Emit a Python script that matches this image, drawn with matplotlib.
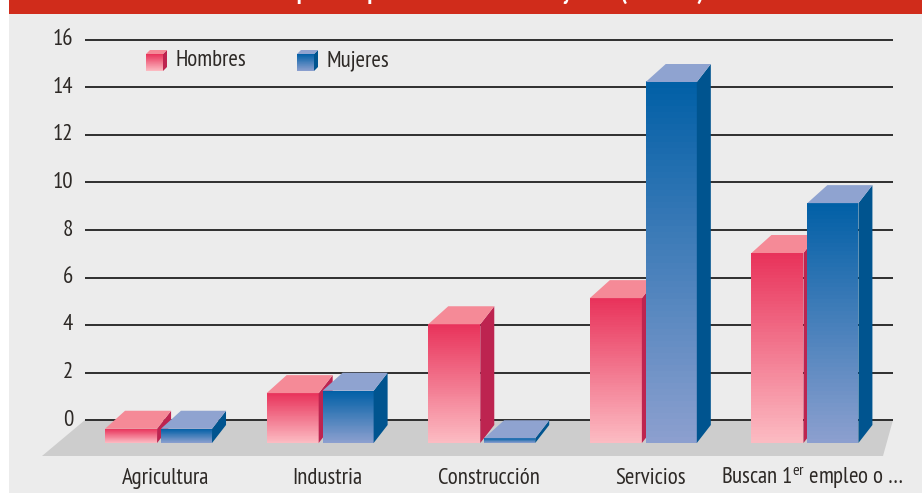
import matplotlib
matplotlib.use("Agg")
import matplotlib.pyplot as plt
from matplotlib.patches import Polygon, Rectangle
import numpy as np

FONT = ['PT Sans Narrow', 'Roboto Condensed', 'DejaVu Sans']
plt.rcParams['font.family'] = FONT
plt.rcParams['mathtext.fontset'] = 'custom'
plt.rcParams['mathtext.rm'] = 'PT Sans Narrow'
plt.rcParams['mathtext.it'] = 'PT Sans Narrow:italic'
plt.rcParams['mathtext.bf'] = 'PT Sans Narrow:bold'

# ---------------- data ----------------
categories = ["Agricultura", "Industria", "Construcción", "Servicios",
              "Buscan 1$^{\\mathrm{er}}$ empleo o …"]
series_names = ["Hombres", "Mujeres"]
hombres = [0.6, 2.1, 5.0, 6.1, 8.0]
mujeres = [0.6, 2.2, 0.2, 15.2, 10.1]
yticks = [0, 2, 4, 6, 8, 10, 12, 14, 16]
title = "Desempleados por sector de actividad y sexo (en miles)"

# ---------------- style ----------------
W, H, DPI = 922, 493, 100
FS = 16.5
bg = '#ececec'
floor_c = '#cdcdcd'
header_c = '#d02c1b'
text_c = '#2d2926'
red = dict(top_grad='#e8325a', bot_grad='#fcbcc3', side='#bd2450', cap='#f58a97')
blue = dict(top_grad='#005fa6', bot_grad='#8da0cf', side='#00548f', cap='#8fa3d0')
styles = [red, blue]

fig = plt.figure(figsize=(W / DPI, H / DPI), dpi=DPI)
fig.patch.set_facecolor('white')

# background panel & header
fig.add_artist(Rectangle((9 / W, 0), 1 - 9 / W, 1 - 1 / H, transform=fig.transFigure,
                         facecolor=bg, edgecolor='none', zorder=0))
fig.add_artist(Rectangle((9 / W, 1 - 13.5 / H), 1 - 9 / W, 13.5 / H, transform=fig.transFigure,
                         facecolor=header_c, edgecolor='none', zorder=1))
fig.text(0.512, 1 + 1.5 / H, title, color='white', fontsize=17, fontweight='bold',
         ha='center', va='baseline', zorder=2)

ax = fig.add_axes([85 / W, (H - 420) / H, 808 / W, 380 / H])
ax.set_xlim(-0.5, 4.5)
ax.set_ylim(0, 16)
ax.axis('off')

# pixel -> data conversion
fig.canvas.draw()
p0 = ax.transData.transform((0, 0))
p1 = ax.transData.transform((1, 1))
sx = p1[0] - p0[0]
sy = p1[1] - p0[1]
def px(dx):
    return dx / sx
def py(dy):
    return dy / sy

# floor
floor = Polygon([(-0.5, 0), (4.5, 0), (4.5 - px(10), -py(36)), (-0.5 - px(43), -py(36))],
                closed=True, facecolor=floor_c, edgecolor='none', zorder=1, clip_on=False)
ax.add_patch(floor)

# gridlines and tick labels
for t in yticks:
    ax.plot([-0.5, 4.5], [t, t], color='#2e2e2e', lw=1.4, zorder=2, clip_on=False,
            solid_capstyle='butt')
    ax.text(-0.5 - px(12), t, str(t), ha='right', va='center', fontsize=FS,
            color=text_c)

# 3D bars
base = -py(23)
dxL, dxR, dyD = px(20), px(14), py(18)
offsets = [(-0.376, -0.054), (-0.030, 0.286)]

def hex2rgb(h):
    return np.array([int(h[i:i + 2], 16) for i in (1, 3, 5)]) / 255.0

def draw_box(axis, x0, x1, yb, yt, ddxL, ddxR, ddy, st, transform, z):
    c_top = hex2rgb(st['top_grad'])
    c_bot = hex2rgb(st['bot_grad'])
    n = 60
    edges = np.linspace(yb, yt, n + 1)
    for k in range(n):
        f = (k + 0.5) / n
        col = c_bot * (1 - f) + c_top * f
        axis.add_patch(Rectangle((x0, edges[k]), x1 - x0, edges[k + 1] - edges[k] + (yt - yb) * 0.002,
                                 facecolor=col, edgecolor='none', zorder=z,
                                 transform=transform, clip_on=False))
    side = Polygon([(x1, yb), (x1, yt), (x1 + ddxR, yt + ddy), (x1 + ddxR, yb + ddy)],
                   closed=True, facecolor=st['side'], edgecolor='none', zorder=z,
                   transform=transform, clip_on=False)
    cap = Polygon([(x0, yt), (x1, yt), (x1 + ddxR, yt + ddy), (x0 + ddxL, yt + ddy)],
                  closed=True, facecolor=st['cap'], edgecolor='none', zorder=z,
                  transform=transform, clip_on=False)
    axis.add_patch(side)
    axis.add_patch(cap)

values = [hombres, mujeres]
for i in range(len(categories)):
    for s in range(2):
        v = values[s][i]
        x0 = i + offsets[s][0]
        x1 = i + offsets[s][1]
        draw_box(ax, x0, x1, base, base + v, dxL, dxR, dyD, styles[s], ax.transData,
                 3 + i * 2 + s)

# category labels
for i, c in enumerate(categories):
    ax.text(i, -2.69, c, ha='center', va='baseline', fontsize=FS, color=text_c)

# legend (manual, cube icons)
ax_w, ax_h = 808.0, 380.0
leg_x = [146, 297]
for s, name in enumerate(series_names):
    xa0 = (leg_x[s] - 85) / ax_w
    xa1 = xa0 + 17 / ax_w
    ya0 = (420 - 71) / ax_h
    ya1 = (420 - 54) / ax_h
    draw_box(ax, xa0, xa1, ya0, ya1, 4 / ax_w, 4 / ax_w, 4 / ax_h, styles[s],
             ax.transAxes, 20)
    ax.text(xa1 + 12 / ax_w, (420 - 61) / ax_h, name, transform=ax.transAxes,
            ha='left', va='center', fontsize=FS, color=text_c)

fig.savefig('out.png', dpi=DPI, facecolor=fig.get_facecolor())
